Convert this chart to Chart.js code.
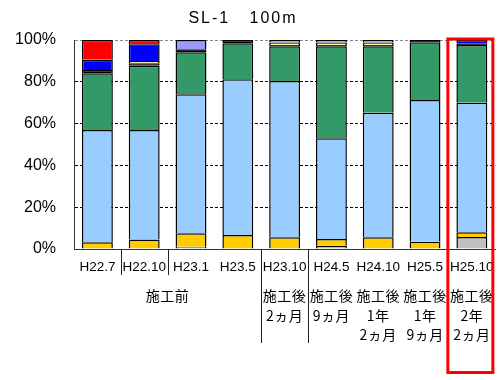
<!DOCTYPE html>
<html>
<head>
<meta charset="utf-8">
<script src="https://cdn.jsdelivr.net/npm/chart.js@4/dist/chart.umd.min.js"></script>
<style>
  html, body { margin: 0; padding: 0; background: #fff; }
  #wrap { width: 504px; height: 380px; }
</style>
</head>
<body>
<div id="wrap"><canvas id="c" width="504" height="380"></canvas></div>
<script>
// Survey line and depth
const chartTitle = 'SL-1   100m';

// Survey dates (first row under the axis)
const categories = ['H22.7', 'H22.10', 'H23.1', 'H23.5', 'H23.10', 'H24.5', 'H24.10', 'H25.5', 'H25.10'];

// Group label for the surveys before construction (indices 0..3)
const beforeLabel = '施工前';
const beforeRange = [0, 3];

// Elapsed time after construction, one list of lines per survey
const afterLines = [
  null, null, null, null,
  ['施工後', '2ヵ月'],
  ['施工後', '9ヵ月'],
  ['施工後', '1年', '2ヵ月'],
  ['施工後', '1年', '9ヵ月'],
  ['施工後', '2年', '2ヵ月']
];

// Divider lines under the axis: start index of the category to the right
const shortDividers = [1, 2];
const longDividers = [4, 5];

// Latest survey, framed in red
const highlightIndex = 8;

// Composition (%) per survey, stacked from the bottom
const gray     = [0,    0,    1.1,  0,    0,    1.5,  0,    0,    5.7];
const yellow   = [3.2,  4.5,  6.4,  6.7,  5.6,  3.3,  5.6,  3.5,  2.3];
const lightBlue= [53.7, 52.4, 66.5, 74.5, 74.8, 48.2, 59.6, 67.8, 62.0];
const green    = [27.2, 30.8, 20.1, 17.2, 16.6, 44.0, 31.8, 27.6, 27.6];
const black    = [1.5,  1.2,  1.5,  1.6,  0.6,  0.6,  0.6,  1.1,  0.8];
const cream    = [0,    1.0,  0,    0,    1.2,  1.2,  1.2,  0,    0];
const lavender = [0,    0,    4.4,  0,    1.2,  1.2,  1.2,  0,    0];
const blue     = [5.0,  8.1,  0,    0,    0,    0,    0,    0,    1.6];
const red      = [9.4,  2.0,  0,    0,    0,    0,    0,    0,    0];

const yTicks = [0, 20, 40, 60, 80, 100];

const series = [
  { data: gray,      color: '#c0c0c0' },
  { data: yellow,    color: '#ffcc00' },
  { data: lightBlue, color: '#99ccff' },
  { data: green,     color: '#339966' },
  { data: black,     color: '#000000' },
  { data: cream,     color: '#ffff99' },
  { data: lavender,  color: '#9999ff' },
  { data: blue,      color: '#0000ff' },
  { data: red,       color: '#ff0000' }
];

Chart.defaults.font.family = "'Liberation Sans', Arial, sans-serif";
Chart.defaults.color = '#000';

const annotations = {
  id: 'annotations',
  afterDraw(chart) {
    const ctx = chart.ctx;
    const xs = chart.scales.x;
    const area = chart.chartArea;
    const mid = (i) => (xs.getPixelForValue(i - 1) + xs.getPixelForValue(i)) / 2;

    ctx.save();
    // divider lines below the axis
    ctx.strokeStyle = '#222';
    ctx.lineWidth = 1;
    const drawDivider = (i, yEnd) => {
      const x = Math.round(mid(i)) + 0.5;
      ctx.beginPath();
      ctx.moveTo(x, area.bottom);
      ctx.lineTo(x, yEnd);
      ctx.stroke();
    };
    shortDividers.forEach(i => drawDivider(i, 275));
    longDividers.forEach(i => drawDivider(i, 343));

    // phase labels
    ctx.fillStyle = '#000';
    ctx.font = '14px "Noto Sans CJK JP"';
    ctx.textAlign = 'center';
    ctx.textBaseline = 'middle';
    if ('letterSpacing' in ctx) ctx.letterSpacing = '0.5px';
    const rowY = [296, 315.5, 335];
    const gx = (xs.getPixelForValue(beforeRange[0]) + xs.getPixelForValue(beforeRange[1])) / 2;
    ctx.fillText(beforeLabel, gx, rowY[0]);
    afterLines.forEach((lines, i) => {
      if (!lines) return;
      const x = xs.getPixelForValue(i);
      lines.forEach((t, j) => ctx.fillText(t, x, rowY[j]));
    });

    // red frame around the latest survey
    const cx = xs.getPixelForValue(highlightIndex) - 1.5;
    ctx.strokeStyle = '#ff0000';
    ctx.lineWidth = 3;
    ctx.strokeRect(cx - 22.5, 39, 45, 333.5);

    // title
    ctx.font = '16px "Liberation Sans", Arial, sans-serif';
    if ('letterSpacing' in ctx) ctx.letterSpacing = '2px';
    ctx.fillText(chartTitle, 243, 18.5);
    ctx.restore();
  }
};

new Chart(document.getElementById('c'), {
  type: 'bar',
  data: {
    labels: categories,
    datasets: series.map(s => ({
      data: s.data,
      backgroundColor: s.color,
      borderColor: '#000',
      borderWidth: 1.5,
      barPercentage: 0.66,
      categoryPercentage: 1
    }))
  },
  options: {
    responsive: false,
    animation: false,
    devicePixelRatio: 1,
    layout: { padding: { top: 40, right: 7, left: 0, bottom: 0 } },
    plugins: {
      legend: { display: false },
      title: { display: false },
      tooltip: { enabled: false }
    },
    scales: {
      x: {
        stacked: true,
        grid: { display: false, drawTicks: false },
        border: { display: true, color: '#333', width: 1 },
        ticks: { font: { size: 13.5 }, padding: 10, autoSkip: false, maxRotation: 0, color: '#000' },
        afterFit: (s) => { s.height = 131; }
      },
      y: {
        stacked: true,
        min: 0,
        max: 100,
        afterBuildTicks: (s) => { s.ticks = yTicks.map(v => ({ value: v })); },
        grid: {
          drawTicks: false,
          color: (c) => c.tick && c.tick.value === 100 ? '#888' : (c.tick && c.tick.value === 0 ? 'rgba(0,0,0,0)' : '#000'),
          lineWidth: 1
        },
        border: { display: true, color: '#333', width: 1, dash: [3, 2] },
        ticks: { font: { size: 16 }, padding: 18, color: '#000', callback: (v) => v + '%' },
        afterFit: (s) => { s.width = 74; }
      }
    }
  },
  plugins: [annotations]
});
</script>
</body>
</html>
